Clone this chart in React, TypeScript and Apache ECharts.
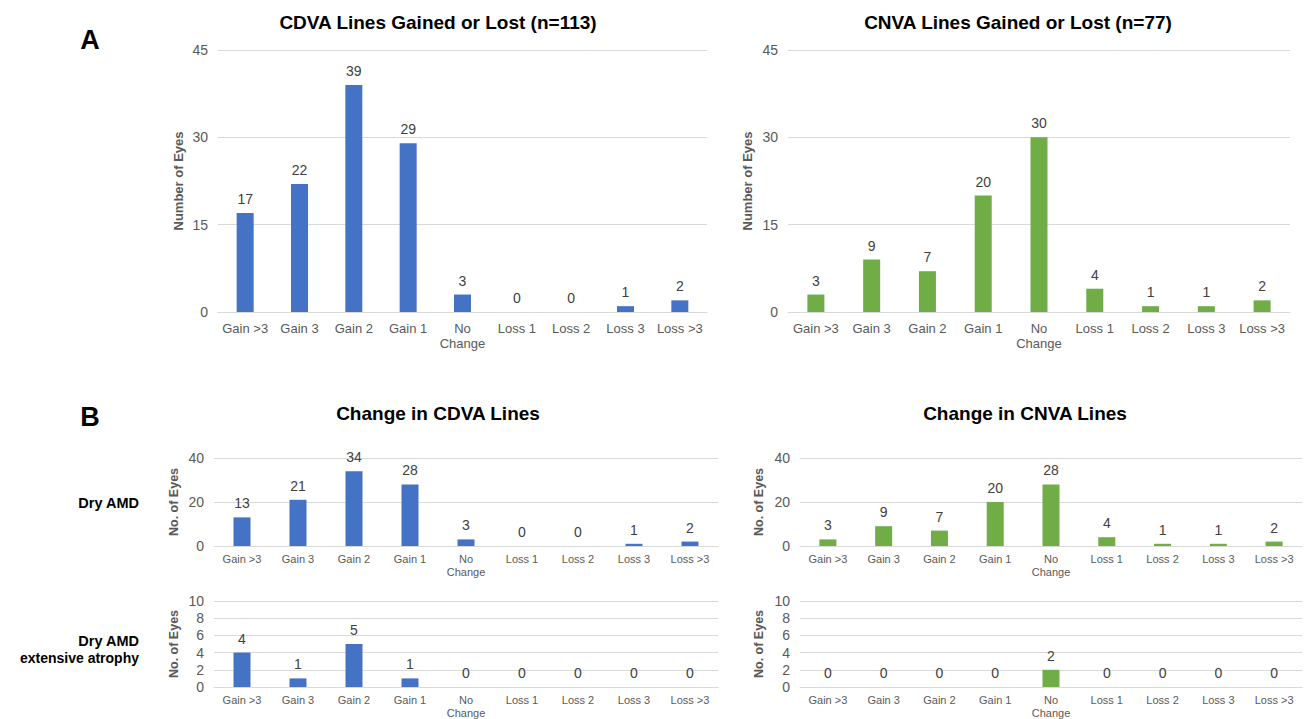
import React, { useEffect, useRef } from "react";
import * as echarts from "echarts";

const categories = ["Gain >3", "Gain 3", "Gain 2", "Gain 1", "No\nChange", "Loss 1", "Loss 2", "Loss 3", "Loss >3"];
const cdvaAll = [17, 22, 39, 29, 3, 0, 0, 1, 2];
const cnvaAll = [3, 9, 7, 20, 30, 4, 1, 1, 2];
const cdvaDry = [13, 21, 34, 28, 3, 0, 0, 1, 2];
const cdvaAtrophy = [4, 1, 5, 1, 0, 0, 0, 0, 0];
const cnvaDry = [3, 9, 7, 20, 28, 4, 1, 1, 2];
const cnvaAtrophy = [0, 0, 0, 0, 2, 0, 0, 0, 0];

const BLUE = "#4472C4";
const GREEN = "#70AD47";
const GRAY = "#595959";
const LINE = "#d9d9d9";
const FONT = "'Liberation Sans', Arial, sans-serif";

export default function App() {
  const ref = useRef<HTMLDivElement>(null);
  useEffect(() => {
    document.body.style.margin = "0";
    const chart = echarts.init(ref.current!, null, { renderer: "svg" });

    const grids = [
      { left: 218, top: 50, width: 489, height: 262 },
      { left: 788, top: 50, width: 502, height: 262 },
      { left: 214, top: 458, width: 504, height: 88 },
      { left: 214, top: 601, width: 504, height: 88 },
      { left: 800, top: 458, width: 502, height: 88 },
      { left: 800, top: 601, width: 502, height: 88 },
    ];
    const big = [true, true, false, false, false, false];
    const yRanges = [
      [45, 15], [45, 15], [40, 20], [10, 2], [40, 20], [10, 2],
    ];
    const yNames = ["Number of Eyes", "Number of Eyes", "No. of Eyes", "No. of Eyes", "No. of Eyes", "No. of Eyes"];
    const nameGaps = [33, 34, 34, 34, 35, 35];
    const datas = [cdvaAll, cnvaAll, cdvaDry, cdvaAtrophy, cnvaDry, cnvaAtrophy];
    const colors = [BLUE, GREEN, BLUE, BLUE, GREEN, GREEN];

    const xAxis = grids.map((_, i) => ({
      type: "category",
      gridIndex: i,
      data: categories,
      axisTick: { show: false },
      axisLine: { lineStyle: { color: LINE, width: 1 } },
      axisLabel: {
        color: GRAY,
        fontFamily: FONT,
        fontSize: big[i] ? 13 : 11,
        lineHeight: big[i] ? 15 : 13,
        margin: big[i] ? 9 : 6,
        interval: 0,
      },
    }));
    const yAxis = grids.map((_, i) => ({
      type: "value",
      gridIndex: i,
      min: 0,
      max: yRanges[i][0],
      interval: yRanges[i][1],
      axisLine: { show: false },
      axisTick: { show: false },
      splitLine: { lineStyle: { color: LINE, width: 1 } },
      axisLabel: { color: GRAY, fontFamily: FONT, fontSize: 14, margin: 10 },
      name: yNames[i],
      nameLocation: "middle",
      nameGap: nameGaps[i],
      nameTextStyle: {
        color: GRAY,
        fontFamily: FONT,
        fontWeight: "bold",
        fontSize: big[i] ? 13 : 12.5,
      },
    }));
    const series = datas.map((d, i) => ({
      type: "bar",
      xAxisIndex: i,
      yAxisIndex: i,
      data: d,
      barWidth: 17,
      itemStyle: { color: colors[i] },
      label: {
        show: true,
        position: "top",
        distance: 7,
        color: "#404040",
        fontFamily: FONT,
        fontSize: 14,
      },
    }));

    const txt = (x: number, y: number, text: string, size: number, align = "center") => ({
      type: "text",
      x,
      y,
      style: {
        text,
        fill: "#000",
        font: `bold ${size}px ${FONT}`,
        textAlign: align,
        textVerticalAlign: "middle",
      },
    });

    chart.setOption({
      animation: false,
      backgroundColor: "#fff",
      grid: grids,
      xAxis,
      yAxis,
      series,
      graphic: [
        txt(438, 22, "CDVA Lines Gained or Lost (n=113)", 19),
        txt(1018, 22, "CNVA Lines Gained or Lost (n=77)", 19),
        txt(438, 413, "Change in CDVA Lines", 19),
        txt(1025, 413, "Change in CNVA Lines", 19),
        txt(90, 40, "A", 27),
        txt(90, 417, "B", 27),
        txt(139, 503, "Dry AMD", 14.5, "right"),
        txt(139, 641, "Dry AMD", 14.5, "right"),
        txt(139, 658, "extensive atrophy", 14, "right"),
      ],
    });
    return () => chart.dispose();
  }, []);
  return <div ref={ref} style={{ width: 1306, height: 719 }} />;
}
